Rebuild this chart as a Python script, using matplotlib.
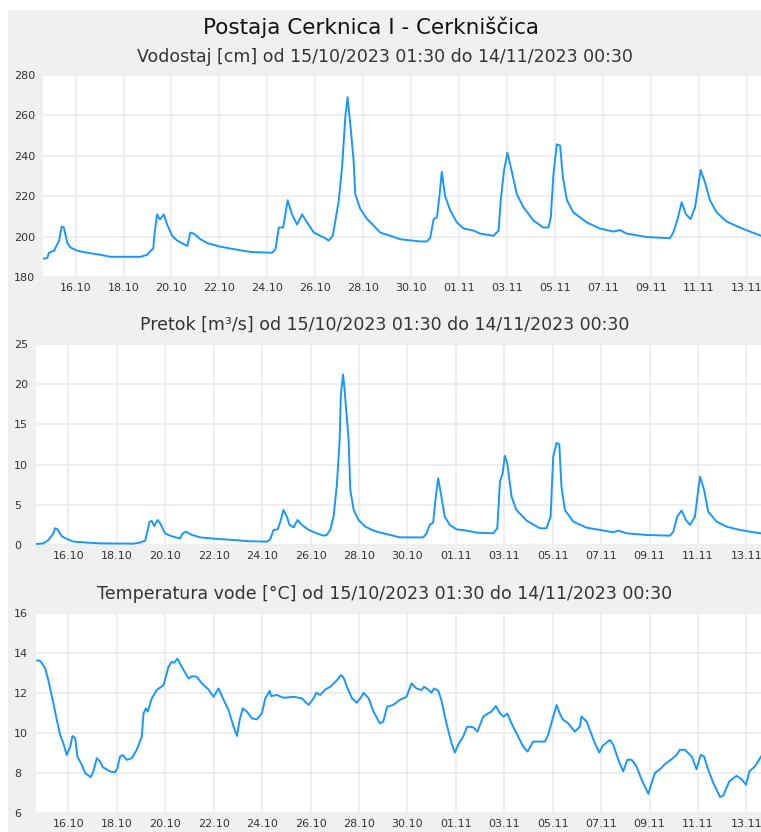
import matplotlib
matplotlib.use("Agg")
import matplotlib.pyplot as plt
from matplotlib.patches import Rectangle

# ---------------- data (x = day in tick space; 16 = 16.10, 32 = 01.11) -------------
tick_days = [16, 18, 20, 22, 24, 26, 28, 30, 32, 34, 36, 38, 40, 42, 44]
tick_labels = ['16.10', '18.10', '20.10', '22.10', '24.10', '26.10', '28.10', '30.10',
               '01.11', '03.11', '05.11', '07.11', '09.11', '11.11', '13.11']

lvl_day = [14.65, 14.82, 14.89, 15.10, 15.31, 15.42, 15.51, 15.65, 15.79, 16.07, 16.49,
           17.04, 17.46, 18.71, 18.99, 19.13, 19.24, 19.29, 19.40, 19.52, 19.68, 19.82,
           20.03, 20.24, 20.66, 20.79, 20.93, 21.21, 21.49, 22.04, 22.60, 23.30, 24.20,
           24.34, 24.48, 24.66, 24.85, 25.03, 25.24, 25.45, 25.66, 25.94, 26.21, 26.42,
           26.56, 26.73, 26.84, 26.98, 27.12, 27.26, 27.35, 27.46, 27.60, 27.67, 27.88,
           28.16, 28.44, 28.71, 29.13, 29.55, 30.38, 30.66, 30.80, 30.94, 31.08, 31.19,
           31.28, 31.42, 31.63, 31.91, 32.19, 32.60, 32.88, 33.44, 33.65, 33.74, 33.88,
           34.02, 34.16, 34.41, 34.69, 35.11, 35.52, 35.73, 35.83, 35.94, 36.08, 36.22,
           36.33, 36.50, 36.77, 37.33, 37.88, 38.44, 38.72, 38.99, 39.83, 40.80, 40.94,
           41.12, 41.29, 41.47, 41.66, 41.85, 42.08, 42.26, 42.47, 42.75, 43.16, 43.72,
           44.14, 44.60]
lvl_cm = [189, 189.5, 192, 193, 198, 205, 204.5, 197, 194.6, 193, 192,
          191, 190, 190, 191, 193, 194, 201, 211, 208.5, 211, 206,
          200.4, 198, 195.4, 202, 201.5, 198.7, 196.8, 195, 193.8, 192.4, 192,
          193.8, 204.5, 204.5, 218, 211, 206, 211, 207, 202, 200.4, 199.2,
          198, 200.4, 207.9, 217.8, 234.4, 260, 269, 256, 237.7, 221, 213.7,
          208.7, 205.4, 202, 200.4, 198.7, 197.6, 197.6, 199.5, 208.7, 209.6, 221,
          232, 220, 213, 207, 204, 203, 201.5, 200.4, 203, 218, 233,
          241.5, 234.4, 221, 214.5, 207.9, 204.5, 204.5, 209.6, 231, 245.7, 245,
          229.5, 218, 212, 207, 204, 202.5, 203.2, 201.5, 199.8, 199.2, 202,
          208.7, 217, 211, 208.7, 214.5, 233, 227, 218, 212, 207.5, 204.5,
          202.5, 200.4]

q_day = [14.62, 14.97, 15.17, 15.38, 15.45, 15.55, 15.72, 15.93, 16.21, 16.76, 17.31,
         18.69, 18.96, 19.17, 19.24, 19.35, 19.44, 19.54, 19.68, 19.79, 19.99, 20.20,
         20.48, 20.61, 20.72, 20.86, 21.10, 21.44, 21.99, 22.82, 23.51, 24.20, 24.33,
         24.47, 24.64, 24.75, 24.88, 25.02, 25.13, 25.30, 25.46, 25.64, 25.92, 26.26,
         26.54, 26.67, 26.81, 26.95, 27.09, 27.20, 27.25, 27.34, 27.39, 27.47, 27.57,
         27.64, 27.78, 27.98, 28.26, 28.60, 28.88, 29.41, 29.68, 30.65, 30.79, 30.92,
         31.06, 31.17, 31.27, 31.38, 31.54, 31.75, 32.02, 32.44, 32.85, 33.54, 33.71,
         33.82, 33.93, 34.02, 34.12, 34.30, 34.50, 34.92, 35.47, 35.74, 35.91, 36.02,
         36.16, 36.27, 36.36, 36.50, 36.85, 37.40, 37.95, 38.50, 38.71, 39.05, 39.88,
         40.84, 40.98, 41.14, 41.32, 41.50, 41.67, 41.87, 42.08, 42.25, 42.42, 42.77,
         43.18, 43.73, 44.15, 44.60]
q_m3s = [0.12, 0.2, 0.6, 1.45, 2.08, 1.95, 1.1, 0.75, 0.42, 0.3, 0.2,
         0.17, 0.3, 0.54, 1.45, 2.9, 3.0, 2.37, 3.1, 2.7, 1.45, 1.16,
         0.91, 0.83, 1.45, 1.66, 1.25, 0.95, 0.79, 0.62, 0.46, 0.42, 0.7,
         1.87, 1.95, 2.9, 4.36, 3.53, 2.5, 2.2, 3.11, 2.5, 1.87, 1.45,
         1.16, 1.25, 1.87, 3.53, 7.68, 13.1, 18.7, 21.2, 19.8, 16.8, 13.1,
         6.85, 4.36, 3.11, 2.28, 1.79, 1.54, 1.16, 0.95, 0.95, 1.45, 2.5,
         2.78, 6.0, 8.3, 6.4, 3.53, 2.5, 1.95, 1.79, 1.54, 1.45, 2.08,
         7.9, 8.9, 11.1, 10.2, 6.0, 4.36, 3.03, 2.08, 2.08, 3.53, 11.0,
         12.7, 12.5, 7.27, 4.36, 2.9, 2.16, 1.87, 1.58, 1.79, 1.45, 1.25,
         1.16, 1.66, 3.53, 4.28, 3.11, 2.5, 3.53, 8.5, 6.85, 4.15, 2.9,
         2.28, 1.87, 1.66, 1.45]

t_day = [14.62, 14.83, 14.90, 15.04, 15.17, 15.38, 15.52, 15.66, 15.79, 15.93, 16.07,
         16.17, 16.28, 16.37, 16.55, 16.69, 16.92, 17.03, 17.17, 17.31, 17.42, 17.72,
         17.93, 18.02, 18.13, 18.24, 18.41, 18.62, 18.82, 19.03, 19.10, 19.20, 19.28,
         19.44, 19.65, 19.93, 20.13, 20.27, 20.37, 20.50, 20.68, 20.82, 20.96, 21.10,
         21.30, 21.51, 21.78, 21.99, 22.20, 22.38, 22.61, 22.82, 22.96, 23.07, 23.20,
         23.37, 23.58, 23.78, 23.99, 24.13, 24.31, 24.36, 24.61, 24.88, 25.30, 25.64,
         25.92, 26.12, 26.23, 26.40, 26.61, 26.81, 27.09, 27.25, 27.36, 27.50, 27.71,
         27.91, 28.05, 28.19, 28.40, 28.60, 28.86, 29.00, 29.16, 29.41, 29.68, 29.96,
         30.17, 30.37, 30.58, 30.69, 30.85, 30.99, 31.10, 31.27, 31.40, 31.61, 31.82,
         31.96, 32.09, 32.30, 32.47, 32.71, 32.89, 33.13, 33.33, 33.47, 33.65, 33.82,
         33.98, 34.12, 34.30, 34.57, 34.78, 34.96, 35.19, 35.44, 35.68, 35.81, 36.02,
         36.16, 36.29, 36.41, 36.64, 36.91, 37.12, 37.19, 37.40, 37.53, 37.74, 37.92,
         38.06, 38.36, 38.50, 38.71, 38.91, 39.08, 39.26, 39.46, 39.67, 39.95, 40.08,
         40.22, 40.43, 40.63, 40.91, 41.12, 41.25, 41.46, 41.74, 41.94, 42.11, 42.25,
         42.42, 42.63, 42.91, 43.04, 43.29, 43.59, 43.80, 43.98, 44.12, 44.35, 44.60]
t_degc = [13.64, 13.61, 13.5, 13.23, 12.64, 11.48, 10.65, 9.9, 9.49, 8.9, 9.32,
          9.85, 9.74, 8.82, 8.41, 8.0, 7.79, 8.08, 8.74, 8.57, 8.29, 8.08,
          8.03, 8.24, 8.82, 8.9, 8.66, 8.74, 9.16, 9.82, 10.98, 11.23, 11.07,
          11.73, 12.15, 12.4, 13.31, 13.56, 13.51, 13.72, 13.31, 13.01, 12.73, 12.84,
          12.81, 12.48, 12.18, 11.81, 12.23, 11.73, 11.15, 10.32, 9.85, 10.65, 11.23,
          11.07, 10.73, 10.68, 10.98, 11.73, 12.11, 11.85, 11.9, 11.76, 11.81, 11.73,
          11.4, 11.73, 12.01, 11.9, 12.18, 12.31, 12.64, 12.89, 12.78, 12.31, 11.73,
          11.51, 11.73, 12.01, 11.73, 11.07, 10.48, 10.57, 11.32, 11.4, 11.65, 11.81,
          12.48, 12.23, 12.15, 12.31, 12.18, 12.01, 12.23, 12.11, 11.65, 10.48, 9.49,
          9.02, 9.41, 9.82, 10.32, 10.29, 10.07, 10.82, 10.98, 11.07, 11.35, 10.98,
          10.82, 10.98, 10.48, 9.82, 9.32, 9.07, 9.57, 9.57, 9.57, 9.9, 10.82,
          11.4, 10.98, 10.68, 10.48, 10.07, 10.32, 10.82, 10.57, 10.15, 9.49, 9.02,
          9.36, 9.65, 9.41, 8.66, 8.08, 8.66, 8.66, 8.33, 7.66, 6.96, 7.5,
          8.0, 8.19, 8.44, 8.69, 8.91, 9.16, 9.16, 8.82, 8.19, 8.91, 8.82,
          8.16, 7.5, 6.8, 6.87, 7.58, 7.86, 7.69, 7.41, 8.08, 8.33, 8.82]

title = "Postaja Cerknica I - Cerkniščica"
subtitles = ["Vodostaj [cm] od 15/10/2023 01:30 do 14/11/2023 00:30",
             "Pretok [m³/s] od 15/10/2023 01:30 do 14/11/2023 00:30",
             "Temperatura vode [°C] od 15/10/2023 01:30 do 14/11/2023 00:30"]
y_ticks = [[180, 200, 220, 240, 260, 280], [0, 5, 10, 15, 20, 25], [6, 8, 10, 12, 14, 16]]
y_lims = [(180, 280), (0, 25), (6, 16)]

# ---------------- figure ----------------
W, H = 761, 832
fig = plt.figure(figsize=(W / 100, H / 100), dpi=100, facecolor='white')
bg = Rectangle((8 / W, 0), 1 - 8 / W, 1 - 10 / H, transform=fig.transFigure,
               facecolor='#f0f0f0', edgecolor='none', zorder=-10)
fig.add_artist(bg)

LINE = '#1a97f7'
GRID = '#ebebeb'
TXT = '#333333'

# (left_px, top_px, bottom_px)
boxes = [(43, 75, 277), (35.5, 344, 545), (35.5, 613, 813)]
series = [(lvl_day, lvl_cm), (q_day, q_m3s), (t_day, t_degc)]
sub_y = [57, 325, 594]

for i, ((l, t, b), (xd, yd)) in enumerate(zip(boxes, series)):
    ax = fig.add_axes([l / W, (H - b) / H, (W - l) / W, (b - t) / H])
    ax.set_zorder(1)
    ax.set_facecolor('white')
    ax.plot(xd, yd, color=LINE, lw=1.4, zorder=3)
    ax.set_xlim(14.64, 44.6)
    ax.set_ylim(*y_lims[i])
    ax.set_xticks(tick_days)
    ax.set_xticklabels(tick_labels)
    ax.set_yticks(y_ticks[i])
    ax.grid(True, color=GRID, lw=1.2, zorder=1)
    ax.set_axisbelow(True)
    for s in ax.spines.values():
        s.set_visible(False)
    ypad = (l - 14) * 0.72
    ax.tick_params(axis='y', length=0, pad=ypad, labelsize=8, labelcolor=TXT)
    ax.tick_params(axis='x', length=0, pad=4, labelsize=8, labelcolor=TXT)
    for lab in ax.get_yticklabels():
        lab.set_horizontalalignment('left')
    fig.text(384.5 / W, 1 - sub_y[i] / H, subtitles[i], ha='center', va='center',
             fontsize=12.5, color=TXT, zorder=5)

fig.text(371 / W, 1 - 27 / H, title, ha='center', va='center', fontsize=15.5,
         color='#111111', zorder=5)

fig.savefig('out.png', dpi=100, facecolor=fig.get_facecolor())
